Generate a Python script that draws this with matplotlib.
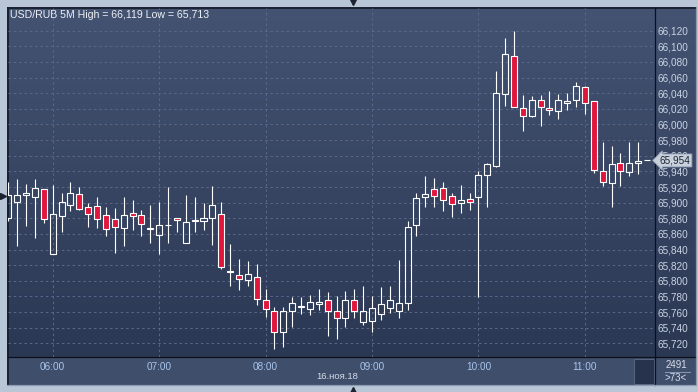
import numpy as np
import matplotlib
matplotlib.use('Agg')
import matplotlib.pyplot as plt
from matplotlib.patches import Rectangle
from matplotlib.transforms import blended_transform_factory

plt.rcParams['font.family'] = ['Liberation Sans', 'DejaVu Sans']

# 5-minute bars, index 0 = 06:00 (16.11.18), first visible bar is 05:35
bar_idx = list(range(-5, 68))
opens = [65.880, 65.901, 65.910, 65.907, 65.917, 65.834, 65.883, 65.897, 65.911, 65.894,
         65.896, 65.884, 65.879, 65.868, 65.887, 65.884, 65.866, 65.859, 65.871, 65.880,
         65.848, 65.877, 65.876, 65.880, 65.885, 65.811, 65.807, 65.801, 65.805, 65.775,
         65.762, 65.735, 65.762, 65.766, 65.764, 65.771, 65.775, 65.761, 65.752, 65.775,
         65.747, 65.749, 65.757, 65.765, 65.761, 65.772, 65.872, 65.907, 65.918, 65.919,
         65.909, 65.900, 65.905, 65.907, 65.935, 65.947, 66.039, 66.088, 66.021, 66.011,
         66.031, 66.021, 66.017, 66.028, 66.031, 66.048, 66.030, 65.941, 65.925, 65.951,
         65.939, 65.951, 65.954]
closes = [65.910, 65.910, 65.912, 65.919, 65.879, 65.885, 65.901, 65.913, 65.892, 65.885,
          65.879, 65.866, 65.869, 65.884, 65.883, 65.873, 65.868, 65.871, 65.872, 65.878,
          65.875, 65.878, 65.880, 65.897, 65.818, 65.813, 65.802, 65.809, 65.777, 65.764,
          65.735, 65.762, 65.772, 65.768, 65.773, 65.773, 65.761, 65.752, 65.775, 65.761,
          65.761, 65.765, 65.770, 65.775, 65.772, 65.869, 65.906, 65.911, 65.909, 65.903,
          65.898, 65.904, 65.901, 65.936, 65.950, 66.040, 66.090, 66.023, 66.011, 66.031,
          66.022, 66.018, 66.031, 66.030, 66.049, 66.027, 65.942, 65.927, 65.950, 65.940,
          65.951, 65.953, 65.954]
highs = [65.927, 65.930, 65.924, 65.930, 65.917, 65.922, 65.912, 65.926, 65.920, 65.900,
         65.907, 65.894, 65.893, 65.907, 65.903, 65.891, 65.897, 65.901, 65.920, 65.880,
         65.910, 65.907, 65.899, 65.921, 65.901, 65.847, 65.828, 65.826, 65.821, 65.790,
         65.767, 65.767, 65.779, 65.779, 65.782, 65.790, 65.786, 65.781, 65.787, 65.790,
         65.794, 65.780, 65.792, 65.794, 65.827, 65.877, 65.913, 65.934, 65.932, 65.927,
         65.913, 65.922, 65.913, 65.940, 65.951, 66.068, 66.111, 66.119, 66.038, 66.037,
         66.038, 66.043, 66.039, 66.040, 66.054, 66.049, 66.030, 65.978, 65.972, 65.964,
         65.977, 65.977, 65.954]
lows = [65.876, 65.844, 65.870, 65.855, 65.874, 65.834, 65.862, 65.889, 65.890, 65.869,
        65.868, 65.857, 65.836, 65.845, 65.865, 65.857, 65.848, 65.834, 65.848, 65.862,
        65.848, 65.862, 65.865, 65.846, 65.815, 65.793, 65.788, 65.793, 65.769, 65.754,
        65.713, 65.716, 65.741, 65.757, 65.756, 65.763, 65.730, 65.726, 65.741, 65.752,
        65.744, 65.734, 65.750, 65.759, 65.752, 65.763, 65.857, 65.894, 65.894, 65.889,
        65.882, 65.887, 65.890, 65.779, 65.894, 65.946, 66.024, 66.022, 65.992, 66.010,
        65.998, 66.012, 66.007, 66.019, 66.022, 66.014, 65.938, 65.921, 65.894, 65.921,
        65.934, 65.937, 65.954]

hour_idx = [0, 12, 24, 36, 48, 60]
hour_labels = ['06:00', '07:00', '08:00', '09:00', '10:00', '11:00']
price_ticks = [round(65.72 + 0.02 * i, 3) for i in range(21)]
last_price = 65.954

W, H = 698, 392
fig = plt.figure(figsize=(W / 100, H / 100), dpi=100)
fig.patch.set_facecolor('#b9c6d7')

# pixel-space background layer
bg = fig.add_axes([0, 0, 1, 1], zorder=0)
bg.set_xlim(0, W)
bg.set_ylim(H, 0)
bg.axis('off')
grad = np.linspace(0, 1, 256)[:, None]
top = np.array([0x44, 0x53, 0x72]) / 255
bot = np.array([0x2b, 0x38, 0x54]) / 255
img = top[None, None, :] * (1 - grad[:, :, None]) + bot[None, None, :] * grad[:, :, None]
bg.imshow(img, extent=(7, 696, 357, 7), aspect='auto', zorder=0)
bg.add_patch(Rectangle((7, 357), 689, 28, fc='#3f4e6b', ec='none', zorder=1))
bg.add_patch(Rectangle((634, 359), 20, 25, fc='#27334c', ec='#56647f', lw=0.7, zorder=2))
bg.plot([8, 8], [8, 385], color='#141a26', lw=1.2, zorder=3)
bg.plot([8, 696], [8, 8], color='#141a26', lw=1.2, zorder=3)
bg.plot([655, 655], [8, 385], color='#0c1018', lw=0.9, zorder=3)
bg.plot([8, 696], [357, 357], color='#0c1018', lw=0.9, zorder=3)
bg.plot([7, 696, 696], [385, 385, 7], color='#8d9bb0', lw=0.9, zorder=3)
bg.plot([665, 690], [371.5, 371.5], color='#8a98b0', lw=0.7, zorder=3)
bg.text(687, 364.5, '2491', color='#d8dee8', fontsize=7, ha='right', va='center', zorder=4)
bg.text(676, 378, '>73<', color='#d8dee8', fontsize=7, ha='center', va='center', zorder=4)
bg.text(337, 376.5, '16.ноя.18', color='#d4dbe6', fontsize=6.8, ha='center', va='center', zorder=4)
bg.text(10, 14.5, 'USD/RUB 5M High = 66,119 Low = 65,713', color='#eef1f6', fontsize=7.6,
        ha='left', va='center', zorder=4)
bg.plot([353], [1.5], marker='v', color='#1c2230', ms=5, zorder=4, clip_on=False)
bg.plot([353], [390], marker='^', color='#1c2230', ms=5, zorder=4, clip_on=False)
bg.plot([2.5], [196], marker='>', color='#1c2230', ms=5, zorder=4, clip_on=False)

# main price axes
ax = fig.add_axes([8 / W, (H - 356.7) / H, (655 - 8) / W, (356.7 - 8) / H], zorder=1)
ax.patch.set_alpha(0)
for s in ax.spines.values():
    s.set_visible(False)
ax.set_xlim(-5.04, 67.9)
ax.set_ylim(65.703, 66.149)

ax.set_yticks(price_ticks)
ax.set_yticklabels([f'{p:.3f}'.replace('.', ',') for p in price_ticks])
ax.yaxis.tick_right()
ax.tick_params(axis='y', length=0, pad=2, labelsize=7.2, labelcolor='#c9d3e2')
ax.set_xticks(hour_idx)
ax.set_xticklabels(hour_labels)
ax.tick_params(axis='x', length=0, pad=4, labelsize=7.2, labelcolor='#a9c6ee')
ax.grid(True, color='#5a6989', lw=0.7, linestyle=(0, (2.5, 3)))
ax.set_axisbelow(True)

bw = 0.68
red = '#e0163c'
lw = 0.8
for k, o, c, h, l in zip(bar_idx, opens, closes, highs, lows):
    lo_b, hi_b = min(o, c), max(o, c)
    ax.vlines(k, hi_b, h, color='white', lw=lw, zorder=3)
    ax.vlines(k, l, lo_b, color='white', lw=lw, zorder=3)
    fc = red if c < o else 'none'
    ax.add_patch(Rectangle((k - bw / 2, lo_b), bw, hi_b - lo_b, fc=fc, ec='white',
                           lw=lw, zorder=4))

# current price tag (covers the 65,960 label as in the terminal)
tr = blended_transform_factory(ax.transAxes, ax.transData)
ax.text(1.007, last_price, '65,954', transform=tr, fontsize=7.2, color='#1e2636',
        ha='left', va='center', zorder=6, clip_on=False,
        bbox=dict(boxstyle='larrow,pad=0.15', fc='#c8d0db', ec='#8e9ab0', lw=0.6))

fig.savefig('out.png', dpi=100, facecolor=fig.get_facecolor())
